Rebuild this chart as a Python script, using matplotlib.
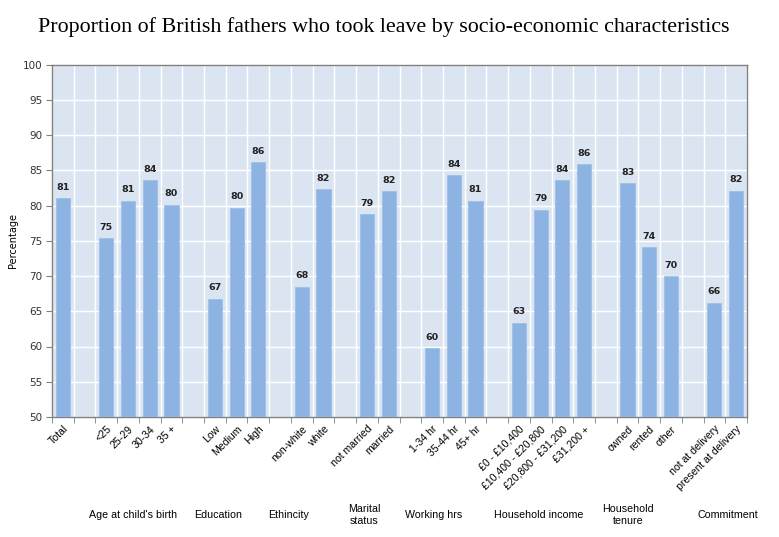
import matplotlib
matplotlib.use("Agg")
import matplotlib.pyplot as plt
import numpy as np

title = "Proportion of British fathers who took leave by socio-economic characteristics"
# categories with None for gaps
categories = ["Total", None, "<25", "25-29", "30-34", "35 +", None,
              "Low", "Medium", "High", None, "non-white", "white", None,
              "not married", "married", None, "1-34 hr", "35-44 hr", "45+ hr", None,
              "£0 - £10,400", "£10,400 - £20,800", "£20,800 - £31,200", "£31,200 +", None,
              "owned", "rented", "other", None, "not at delivery", "present at delivery"]
values = [81.0, None, 75.4, 80.7, 83.6, 80.1, None,
          66.8, 79.7, 86.1, None, 68.5, 82.3, None,
          78.8, 82.0, None, 59.8, 84.3, 80.7, None,
          63.4, 79.4, 83.6, 85.9, None,
          83.2, 74.1, 70.0, None, 66.2, 82.1]
groups = ["Age at child's birth", "Education", "Ethincity", "Marital\nstatus",
          "Working hrs", "Household income", "Household\ntenure", "Commitment"]
group_x = [133, 218, 289, 364, 434, 539, 628, 728]  # pixel centres

W, H = 779, 537
fig = plt.figure(figsize=(W/100, H/100), dpi=100)
L, R, T, B = 52, 747, 64.5, 417
ax = fig.add_axes([L/W, 1-B/H, (R-L)/W, (B-T)/H])
ax.set_facecolor("#DBE5F1")

n = len(categories)
idx = [i for i, c in enumerate(categories) if c is not None]
vals = [values[i] for i in idx]
labs = [categories[i] for i in idx]
ax.bar(idx, vals, width=0.65, bottom=0, color="#8DB3E2", edgecolor="#9BBDE6", linewidth=0.5, zorder=3)
for x, v in zip(idx, vals):
    ax.text(x, v + 0.9, f"{round(v):d}", ha="center", va="bottom", fontsize=6.8,
            fontweight="bold", family="DejaVu Sans", color="#222222", zorder=4)

ax.set_xlim(-0.5, n - 0.5)
ax.set_ylim(50, 100)
ax.set_yticks(np.arange(50, 101, 5))
ax.set_xticks(idx)
ax.set_xticklabels(labs, rotation=45, ha="right", rotation_mode="anchor",
                   fontsize=7.6, family="Liberation Sans")
ax.set_xticks(np.arange(-0.5, n, 1), minor=True)
ax.tick_params(axis="x", which="major", length=0, pad=5)
ax.tick_params(axis="x", which="minor", length=4, color="#808080", direction="out")
ax.tick_params(axis="y", length=4, color="#808080", labelsize=7.5, pad=3)
for t in ax.get_yticklabels():
    t.set_family("DejaVu Sans")
    t.set_color("#333333")
ax.grid(True, axis="y", color="white", linewidth=1.0, zorder=1)
ax.grid(True, axis="x", which="minor", color="white", linewidth=1.0, zorder=1)
ax.grid(False, axis="x", which="major")
ax.set_axisbelow(True)
for s in ax.spines.values():
    s.set_color("#808080")
    s.set_linewidth(1.0)

ax.set_ylabel("Percentage", fontsize=7, family="DejaVu Sans", labelpad=3)

fig.text(384/W, 1-27/H, title, ha="center", va="center", fontsize=15.8,
         family="Liberation Serif")
for g, gx in zip(groups, group_x):
    fig.text(gx/W, 1-515/H, g, ha="center", va="center", fontsize=7.7,
             family="Liberation Sans", linespacing=1.35)

fig.savefig("out.png", dpi=100)
